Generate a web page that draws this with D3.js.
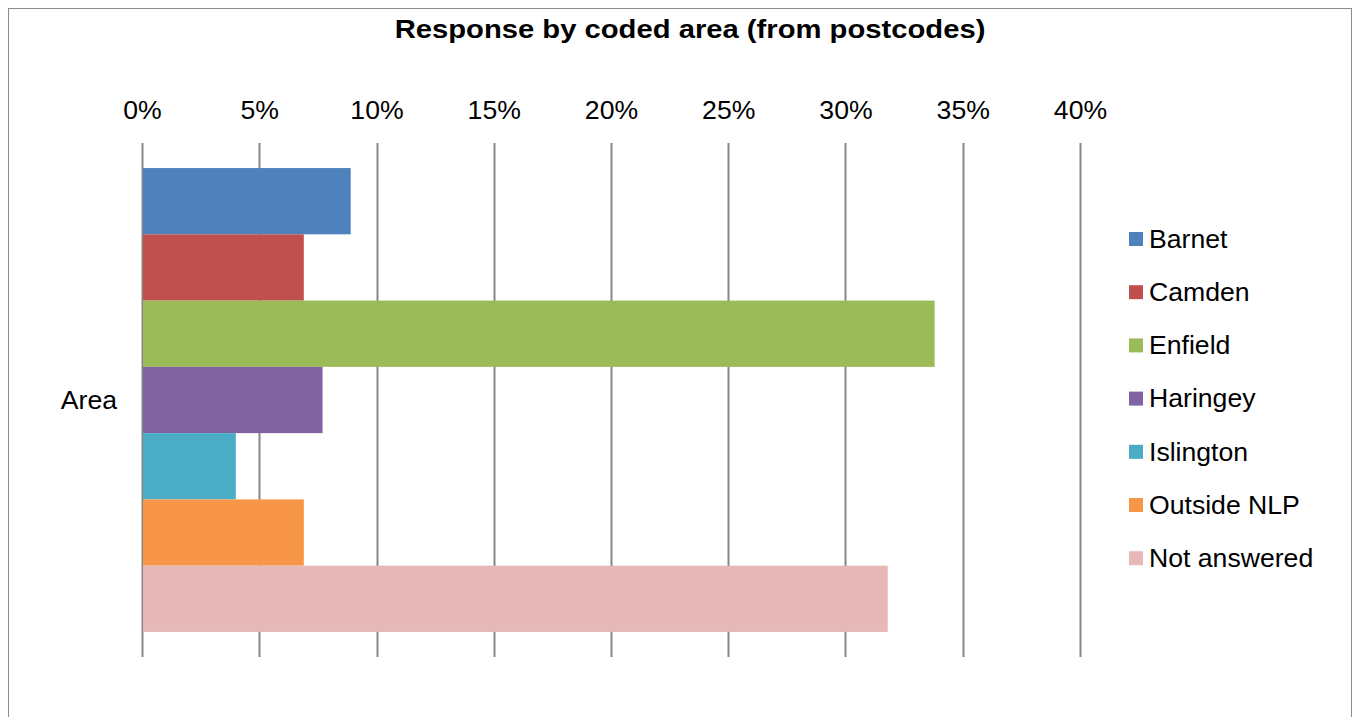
<!DOCTYPE html>
<html>
<head>
<meta charset="utf-8">
<script src="https://cdnjs.cloudflare.com/ajax/libs/d3/7.8.5/d3.min.js"></script>
<style>
  html, body { margin: 0; padding: 0; background: #fff; }
  svg { display: block; font-family: "Liberation Sans", Arial, sans-serif; }
</style>
</head>
<body>
<svg id="chart" width="1353" height="717"></svg>
<script>
// Share of responses by coded area (from postcodes)
const title = "Response by coded area (from postcodes)";
const category = ["Area"];
const seriesNames = ["Barnet", "Camden", "Enfield", "Haringey", "Islington", "Outside NLP", "Not answered"];
const seriesValues = [0.089, 0.069, 0.338, 0.077, 0.040, 0.069, 0.318];
const seriesColors = ["#4f81bd", "#c0504d", "#9bbb59", "#8064a2", "#4bacc6", "#f79646", "#e6b9b8"];
const tickValues = [0, 0.05, 0.10, 0.15, 0.20, 0.25, 0.30, 0.35, 0.40];

const svg = d3.select("#chart");
const labelSize = 25;
const labelStretch = 1.065;

// Outer chart frame
svg.append("rect")
  .attr("x", 8.5).attr("y", 8.5)
  .attr("width", 1343).attr("height", 720)
  .attr("fill", "#fff").attr("stroke", "#8c8c8c").attr("stroke-width", 1);

svg.append("text")
  .attr("transform", "translate(690,38) scale(1.124,1)")
  .attr("text-anchor", "middle")
  .attr("font-size", 26).attr("font-weight", "bold")
  .attr("fill", "#000")
  .text(title);

const plot = { left: 142, right: 1080, top: 143, bottom: 657 };

const x = d3.scaleLinear().domain([0, 0.40]).range([plot.left, plot.right]);
const yCat = d3.scaleBand().domain(category).range([plot.top, plot.bottom]).paddingOuter(0.054).paddingInner(0);
const ySeries = d3.scaleBand().domain(seriesNames).range([0, yCat.bandwidth()]).padding(0);

// Vertical gridlines (incl. value axis at 0)
svg.append("g")
  .selectAll("line")
  .data(tickValues)
  .join("line")
  .attr("x1", d => Math.round(x(d)) + 0.5)
  .attr("x2", d => Math.round(x(d)) + 0.5)
  .attr("y1", plot.top).attr("y2", plot.bottom)
  .attr("stroke", "#878787").attr("stroke-width", 2);

// Tick labels along the top
const axis = d3.axisTop(x).tickValues(tickValues).tickFormat(d3.format(".0%")).tickSize(0).tickPadding(0);
const axisG = svg.append("g").attr("transform", "translate(0,119)").call(axis);
axisG.select(".domain").remove();
axisG.selectAll("text")
  .attr("font-size", labelSize)
  .attr("font-family", "Liberation Sans, Arial, sans-serif")
  .attr("fill", "#000")
  .attr("dy", 0)
  .attr("y", 0)
  .attr("transform", `scale(${labelStretch},1)`);

// Bars
const barG = svg.append("g");
category.forEach(cat => {
  barG.selectAll("rect")
    .data(seriesNames.map((n, i) => ({ name: n, value: seriesValues[i], color: seriesColors[i] })))
    .join("rect")
    .attr("x", x(0) + 1)
    .attr("y", d => yCat(cat) + ySeries(d.name))
    .attr("width", d => x(d.value) - x(0) - 1)
    .attr("height", ySeries.bandwidth())
    .attr("fill", d => d.color);
});

// Category label
svg.append("text")
  .attr("transform", `translate(117,${yCat("Area") + yCat.bandwidth() / 2}) scale(${labelStretch},1)`)
  .attr("dy", "0.35em")
  .attr("text-anchor", "end")
  .attr("font-size", labelSize)
  .attr("fill", "#000")
  .text("Area");

// Legend
const legend = svg.append("g").attr("transform", "translate(1129,239)");
const item = legend.selectAll("g")
  .data(seriesNames)
  .join("g")
  .attr("transform", (d, i) => `translate(0,${i * 53.2})`);
item.append("rect")
  .attr("x", 0).attr("y", -7)
  .attr("width", 14).attr("height", 14)
  .attr("fill", (d, i) => seriesColors[i]);
item.append("text")
  .attr("transform", `translate(20,0) scale(${labelStretch},1)`)
  .attr("dy", "0.35em")
  .attr("font-size", labelSize)
  .attr("fill", "#000")
  .text(d => d);
</script>
</body>
</html>
